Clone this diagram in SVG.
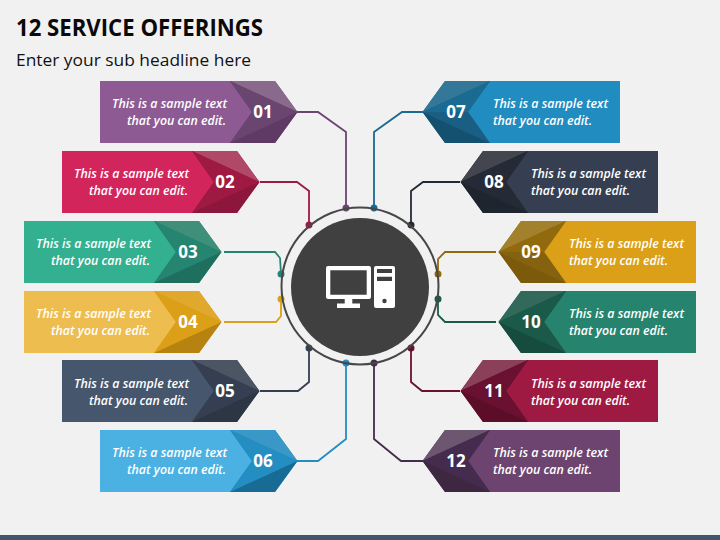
<svg xmlns="http://www.w3.org/2000/svg" xmlns:xlink="http://www.w3.org/1999/xlink" width="720" height="540" viewBox="0 0 720 540">
<style>
text{font-family:"Open Sans","Noto Sans","Liberation Sans",sans-serif}
.t{font-size:12.5px;font-style:italic;font-weight:600;fill:#fff}
.l{text-anchor:end}
.n{font-size:17px;font-weight:700;fill:#fff;text-anchor:middle}
.c{fill:none;stroke-width:1.8}
</style>
<defs>
<polygon id="body" points="0,0 131,0 153,31 131,62 0,62"/>
<polygon id="chev" points="130,0 175,0 197.500,31 175,62 130,62 152,31"/>
<polygon id="fa" points="130,0 175,0 197.500,31"/>
<polygon id="fb" points="130,0 197.500,31 152,31"/>
<polygon id="fc" points="152,31 197.500,31 130,62"/>
<polygon id="fd" points="130,62 197.500,31 175,62"/>
</defs>
<rect width="720" height="540" fill="#f1f1f1"/>
<rect y="535" width="720" height="5" fill="#44546a"/>
<text id="title" x="16" y="36" font-size="22.6" font-weight="700" fill="#0a0a0a" textLength="247" lengthAdjust="spacingAndGlyphs">12 SERVICE OFFERINGS</text>
<text id="subtitle" x="16" y="66" font-size="17" fill="#111" textLength="235" lengthAdjust="spacingAndGlyphs">Enter your sub headline here</text>

<g id="connectors" class="c">
<g stroke="#6a4570"><polyline class="c" points="297,112 318,112 346,132 346,208"/><circle cx="346" cy="208" r="2.600" fill="#6a4570"/></g>
<g stroke="#9e1a42"><polyline class="c" points="260,182 297,182 309,191 309,225"/><circle cx="309" cy="225" r="2.600" fill="#9e1a42"/></g>
<g stroke="#268570"><polyline class="c" points="224,252 275,252 280,258 281,274"/><circle cx="281" cy="274" r="2.600" fill="#268570"/></g>
<g stroke="#dba017"><polyline class="c" points="224,322 276,322 281,316 281,299"/><circle cx="281" cy="299" r="2.600" fill="#dba017"/></g>
<g stroke="#353f51"><polyline class="c" points="260,391 298,391 309,382 309,348"/><circle cx="309" cy="348" r="2.600" fill="#353f51"/></g>
<g stroke="#248dc2"><polyline class="c" points="297,461 318,461 346,439 346,363"/><circle cx="346" cy="363" r="2.600" fill="#248dc2"/></g>
<g stroke="#1a6a92"><polyline class="c" points="423,112 402,112 374,132 374,208"/><circle cx="374" cy="208" r="2.600" fill="#1a6a92"/></g>
<g stroke="#252b36"><polyline class="c" points="460,182 423,182 411,191 411,225"/><circle cx="411" cy="225" r="2.600" fill="#252b36"/></g>
<g stroke="#916a0e"><polyline class="c" points="496,252 445,252 438,259 438,274"/><circle cx="438" cy="274" r="2.600" fill="#916a0e"/></g>
<g stroke="#1b5a48"><polyline class="c" points="496,322 445,322 438,315 438,299"/><circle cx="438" cy="299" r="2.600" fill="#1b5a48"/></g>
<g stroke="#6a1030"><polyline class="c" points="460,391 422,391 411,382 411,348"/><circle cx="411" cy="348" r="2.600" fill="#6a1030"/></g>
<g stroke="#452c4f"><polyline class="c" points="423,461 401,461 374,439 374,363"/><circle cx="374" cy="363" r="2.600" fill="#452c4f"/></g>
</g>

<g id="hub">
<circle cx="360" cy="286" r="78.500" fill="none" stroke="#474747" stroke-width="2"/>
<circle cx="360" cy="287" r="69" fill="#404040"/>
<path fill="#fff" fill-rule="evenodd" d="M328,266H369a2,2 0 0 1 2,2V297a2,2 0 0 1 -2,2H352.300V303.500H360V308H337V303.500H344.700V299H328a2,2 0 0 1 -2,-2V268a2,2 0 0 1 2,-2ZM330.300,270.300V294.700H366.700V270.300Z"/>
<path fill="#fff" fill-rule="evenodd" d="M376,266H393a2,2 0 0 1 2,2V306a2,2 0 0 1 -2,2H376a2,2 0 0 1 -2,-2V268a2,2 0 0 1 2,-2ZM377,269V273H392V269ZM377,276.700V281H392V276.700ZM384.500,298.800a2.200,2.200 0 1 0 0,4.400a2.200,2.200 0 1 0 0,-4.400Z"/>
</g>

<g id="node-01"><g transform="translate(100,81)"><use xlink:href="#body" fill="#8e5a94"/><use xlink:href="#chev" fill="#6a4570"/><use xlink:href="#fa" fill="#8a6a8c"/><use xlink:href="#fb" fill="#6a4570"/><use xlink:href="#fc" fill="#6a4570"/><use xlink:href="#fd" fill="#5f3a64"/></g>
<text class="t l" x="227" y="108" textLength="115" lengthAdjust="spacingAndGlyphs">This is a sample text</text><text class="t l" x="226" y="125" textLength="99" lengthAdjust="spacingAndGlyphs">that you can edit.</text><text class="n" x="263" y="117.500">01</text></g>

<g id="node-02"><g transform="translate(62,151)"><use xlink:href="#body" fill="#d2255c"/><use xlink:href="#chev" fill="#9e1a42"/><use xlink:href="#fa" fill="#b04868"/><use xlink:href="#fb" fill="#9e1a42"/><use xlink:href="#fc" fill="#9e1a42"/><use xlink:href="#fd" fill="#8c163c"/></g>
<text class="t l" x="189" y="178" textLength="115" lengthAdjust="spacingAndGlyphs">This is a sample text</text><text class="t l" x="188" y="195" textLength="99" lengthAdjust="spacingAndGlyphs">that you can edit.</text><text class="n" x="225" y="187.500">02</text></g>

<g id="node-03"><g transform="translate(24,221)"><use xlink:href="#body" fill="#33b08f"/><use xlink:href="#chev" fill="#268570"/><use xlink:href="#fa" fill="#3f8f7a"/><use xlink:href="#fb" fill="#268570"/><use xlink:href="#fc" fill="#268570"/><use xlink:href="#fd" fill="#1e6f5d"/></g>
<text class="t l" x="151" y="248" textLength="115" lengthAdjust="spacingAndGlyphs">This is a sample text</text><text class="t l" x="150" y="265" textLength="99" lengthAdjust="spacingAndGlyphs">that you can edit.</text><text class="n" x="188" y="257.500">03</text></g>

<g id="node-04"><g transform="translate(24,291)"><use xlink:href="#body" fill="#eebd4f"/><use xlink:href="#chev" fill="#dba017"/><use xlink:href="#fa" fill="#e0a92e"/><use xlink:href="#fb" fill="#dba017"/><use xlink:href="#fc" fill="#dba017"/><use xlink:href="#fd" fill="#b78310"/></g>
<text class="t l" x="151" y="318" textLength="115" lengthAdjust="spacingAndGlyphs">This is a sample text</text><text class="t l" x="150" y="335" textLength="99" lengthAdjust="spacingAndGlyphs">that you can edit.</text><text class="n" x="188" y="327.500">04</text></g>

<g id="node-05"><g transform="translate(62,360)"><use xlink:href="#body" fill="#46566c"/><use xlink:href="#chev" fill="#353f51"/><use xlink:href="#fa" fill="#4b5563"/><use xlink:href="#fb" fill="#353f51"/><use xlink:href="#fc" fill="#353f51"/><use xlink:href="#fd" fill="#2c3645"/></g>
<text class="t l" x="189" y="388" textLength="115" lengthAdjust="spacingAndGlyphs">This is a sample text</text><text class="t l" x="188" y="405" textLength="99" lengthAdjust="spacingAndGlyphs">that you can edit.</text><text class="n" x="225" y="397">05</text></g>

<g id="node-06"><g transform="translate(100,430)"><use xlink:href="#body" fill="#4bb1e3"/><use xlink:href="#chev" fill="#248dc2"/><use xlink:href="#fa" fill="#3a98c8"/><use xlink:href="#fb" fill="#248dc2"/><use xlink:href="#fc" fill="#248dc2"/><use xlink:href="#fd" fill="#176b94"/></g>
<text class="t l" x="227" y="457" textLength="115" lengthAdjust="spacingAndGlyphs">This is a sample text</text><text class="t l" x="226" y="474" textLength="99" lengthAdjust="spacingAndGlyphs">that you can edit.</text><text class="n" x="263" y="466.500">06</text></g>

<g id="node-07"><g transform="translate(620,81) scale(-1,1)"><use xlink:href="#body" fill="#218cc0"/><use xlink:href="#chev" fill="#1a6a92"/><use xlink:href="#fa" fill="#337799"/><use xlink:href="#fb" fill="#1a6a92"/><use xlink:href="#fc" fill="#1a5f83"/><use xlink:href="#fd" fill="#14506f"/></g>
<text class="t" x="493" y="108" textLength="115" lengthAdjust="spacingAndGlyphs">This is a sample text</text><text class="t" x="493" y="125" textLength="99" lengthAdjust="spacingAndGlyphs">that you can edit.</text><text class="n" x="456" y="117.500">07</text></g>

<g id="node-08"><g transform="translate(658,151) scale(-1,1)"><use xlink:href="#body" fill="#353f51"/><use xlink:href="#chev" fill="#252b36"/><use xlink:href="#fa" fill="#43454f"/><use xlink:href="#fb" fill="#252b36"/><use xlink:href="#fc" fill="#252b36"/><use xlink:href="#fd" fill="#1e252e"/></g>
<text class="t" x="531" y="178" textLength="115" lengthAdjust="spacingAndGlyphs">This is a sample text</text><text class="t" x="531" y="195" textLength="99" lengthAdjust="spacingAndGlyphs">that you can edit.</text><text class="n" x="494" y="187.500">08</text></g>

<g id="node-09"><g transform="translate(696,221) scale(-1,1)"><use xlink:href="#body" fill="#dba017"/><use xlink:href="#chev" fill="#916a0e"/><use xlink:href="#fa" fill="#a3802c"/><use xlink:href="#fb" fill="#916a0e"/><use xlink:href="#fc" fill="#85620f"/><use xlink:href="#fd" fill="#7b5a0c"/></g>
<text class="t" x="569" y="248" textLength="115" lengthAdjust="spacingAndGlyphs">This is a sample text</text><text class="t" x="569" y="265" textLength="99" lengthAdjust="spacingAndGlyphs">that you can edit.</text><text class="n" x="531" y="257.500">09</text></g>

<g id="node-10"><g transform="translate(696,291) scale(-1,1)"><use xlink:href="#body" fill="#26846e"/><use xlink:href="#chev" fill="#1b5a48"/><use xlink:href="#fa" fill="#32695a"/><use xlink:href="#fb" fill="#1b5a48"/><use xlink:href="#fc" fill="#1b5a48"/><use xlink:href="#fd" fill="#164c3d"/></g>
<text class="t" x="569" y="318" textLength="115" lengthAdjust="spacingAndGlyphs">This is a sample text</text><text class="t" x="569" y="335" textLength="99" lengthAdjust="spacingAndGlyphs">that you can edit.</text><text class="n" x="531" y="327.500">10</text></g>

<g id="node-11"><g transform="translate(658,360) scale(-1,1)"><use xlink:href="#body" fill="#9e1a42"/><use xlink:href="#chev" fill="#6a1030"/><use xlink:href="#fa" fill="#8a4058"/><use xlink:href="#fb" fill="#6a1030"/><use xlink:href="#fc" fill="#6a1030"/><use xlink:href="#fd" fill="#5c0e29"/></g>
<text class="t" x="531" y="388" textLength="115" lengthAdjust="spacingAndGlyphs">This is a sample text</text><text class="t" x="531" y="405" textLength="99" lengthAdjust="spacingAndGlyphs">that you can edit.</text><text class="n" x="494" y="397">11</text></g>

<g id="node-12"><g transform="translate(620,430) scale(-1,1)"><use xlink:href="#body" fill="#6d4470"/><use xlink:href="#chev" fill="#452c4f"/><use xlink:href="#fa" fill="#6d5770"/><use xlink:href="#fb" fill="#452c4f"/><use xlink:href="#fc" fill="#452c4f"/><use xlink:href="#fd" fill="#3e2841"/></g>
<text class="t" x="493" y="457" textLength="115" lengthAdjust="spacingAndGlyphs">This is a sample text</text><text class="t" x="493" y="474" textLength="99" lengthAdjust="spacingAndGlyphs">that you can edit.</text><text class="n" x="456" y="466.500">12</text></g>
</svg>
